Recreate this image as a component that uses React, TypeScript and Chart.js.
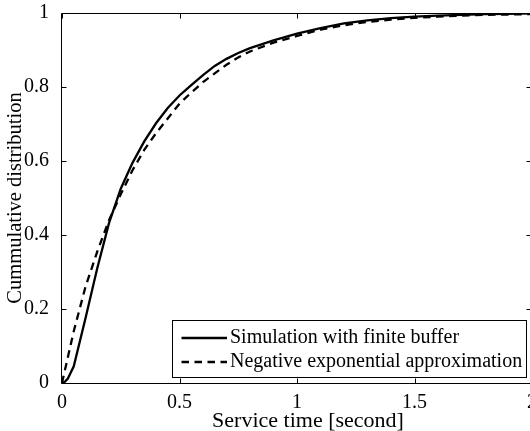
import { useEffect, useRef } from "react";
import { Chart, registerables } from "chart.js";

Chart.register(...registerables);

const FONT = '"Liberation Serif", "Times New Roman", Times, serif';

const seriesNames = ["Simulation with finite buffer", "Negative exponential approximation"];

const simTimes = [0, 0.012, 0.025, 0.05, 0.1, 0.15, 0.2, 0.25, 0.3, 0.35, 0.4, 0.45, 0.5, 0.55, 0.6, 0.65, 0.7, 0.75, 0.8, 0.9, 1.0, 1.1, 1.2, 1.3, 1.4, 1.5, 1.6, 1.7, 1.8, 1.9, 2.0];
const simValues = [0, 0.003, 0.012, 0.045, 0.175, 0.31, 0.432, 0.525, 0.595, 0.653, 0.702, 0.743, 0.777, 0.805, 0.832, 0.857, 0.876, 0.892, 0.905, 0.926, 0.944, 0.959, 0.972, 0.98, 0.986, 0.99, 0.993, 0.995, 0.997, 0.998, 0.999];

const expTimes = [0, 0.05, 0.1, 0.15, 0.2, 0.25, 0.3, 0.35, 0.4, 0.45, 0.5, 0.55, 0.6, 0.65, 0.7, 0.75, 0.8, 0.9, 1.0, 1.1, 1.2, 1.3, 1.4, 1.5, 1.6, 1.7, 1.8, 1.9, 2.0];
const expValues = [0, 0.14, 0.26, 0.355, 0.44, 0.51, 0.575, 0.63, 0.675, 0.715, 0.755, 0.785, 0.813, 0.837, 0.86, 0.88, 0.896, 0.92, 0.938, 0.955, 0.967, 0.976, 0.982, 0.987, 0.99, 0.993, 0.995, 0.996, 0.997];

const xTitle = "Service time [second]";
const yTitle = "Cummulative distribution";

const DASH = [7.5, 5.5];

const fmt = (v: any) => String(parseFloat(Number(v).toFixed(3)));

const framePlugin = {
  id: "matlabFrame",
  afterDraw(chart: any) {
    const { ctx, chartArea: a, scales } = chart;
    const xs = scales.x;
    const ys = scales.y;
    ctx.save();
    ctx.strokeStyle = "#000";
    ctx.lineWidth = 1;
    const L = Math.round(a.left) - 0.5;
    const R = Math.round(a.right) - 0.5;
    const T = Math.round(a.top) + 0.5;
    const B = Math.round(a.bottom) + 0.5;
    ctx.beginPath();
    ctx.rect(L, T, R - L, B - T);
    ctx.stroke();
    const tl = 5;
    ctx.beginPath();
    xs.ticks.forEach((t: any) => {
      const px = Math.round(xs.getPixelForValue(t.value)) + 0.5;
      ctx.moveTo(px, B);
      ctx.lineTo(px, B - tl);
      ctx.moveTo(px, T);
      ctx.lineTo(px, T + tl);
    });
    ys.ticks.forEach((t: any) => {
      const py = Math.round(ys.getPixelForValue(t.value)) + 0.5;
      ctx.moveTo(L, py);
      ctx.lineTo(L + tl, py);
      ctx.moveTo(R, py);
      ctx.lineTo(R - tl, py);
    });
    ctx.stroke();

    // x axis title
    ctx.fillStyle = "#000";
    ctx.font = `22px ${FONT}`;
    ctx.textAlign = "center";
    ctx.textBaseline = "alphabetic";
    ctx.fillText(xTitle, (a.left + a.right) / 2 + 11, 427);

    // legend
    ctx.font = `20px ${FONT}`;
    const tw = Math.max(...seriesNames.map((s) => ctx.measureText(s).width));
    const boxW = 57.5 + tw + 4;
    const boxH = 56.5;
    const right = a.right - 6;
    const bottom = a.bottom - 6.5;
    const left = Math.round(right - boxW) + 0.5;
    const top = Math.round(bottom - boxH) + 0.5;
    ctx.fillStyle = "#fff";
    ctx.fillRect(left, top, Math.round(boxW), Math.round(boxH));
    ctx.strokeRect(left, top, Math.round(boxW), Math.round(boxH));
    chart.data.datasets.forEach((ds: any, i: number) => {
      const yy = top + 17.5 + i * 24;
      ctx.beginPath();
      ctx.strokeStyle = "#000";
      ctx.lineWidth = ds.borderWidth;
      ctx.setLineDash(ds.borderDash || []);
      ctx.moveTo(left + 9, yy);
      ctx.lineTo(left + 54.5, yy);
      ctx.stroke();
      ctx.setLineDash([]);
      ctx.fillStyle = "#000";
      ctx.textAlign = "left";
      ctx.textBaseline = "middle";
      ctx.fillText(ds.label, left + 57.5, yy);
    });
    ctx.restore();
  },
};

export default function App() {
  const ref = useRef<HTMLCanvasElement>(null);
  useEffect(() => {
    const canvas = ref.current;
    if (!canvas) return;
    const chart = new Chart(canvas, {
      type: "line",
      data: {
        datasets: [
          {
            label: seriesNames[0],
            data: simTimes.map((t, i) => ({ x: t, y: simValues[i] })),
            borderColor: "#000",
            borderWidth: 2.3,
            pointRadius: 0,
            tension: 0,
            fill: false,
          },
          {
            label: seriesNames[1],
            data: expTimes.map((t, i) => ({ x: t, y: expValues[i] })),
            borderColor: "#000",
            borderWidth: 2.3,
            borderDash: DASH,
            pointRadius: 0,
            tension: 0,
            fill: false,
          },
        ],
      },
      options: {
        animation: false,
        responsive: false,
        devicePixelRatio: 1,
        layout: { padding: { left: 0, right: 2, top: 13, bottom: 0 } },
        plugins: { legend: { display: false }, tooltip: { enabled: false } },
        scales: {
          x: {
            type: "linear",
            min: 0,
            max: 2,
            grid: { display: false },
            border: { display: false },
            ticks: {
              stepSize: 0.5,
              padding: 0,
              maxRotation: 0,
              color: "#000",
              font: { family: FONT, size: 20 },
              callback: fmt,
            },
            afterFit(s: any) {
              s.height = 48;
              s.paddingLeft = 0;
              s.paddingRight = 0;
            },
          },
          y: {
            type: "linear",
            min: 0,
            max: 1,
            grid: { display: false },
            border: { display: false },
            ticks: {
              stepSize: 0.2,
              padding: 5,
              color: "#000",
              font: { family: FONT, size: 20 },
              callback: fmt,
            },
            title: {
              display: true,
              text: yTitle,
              color: "#000",
              font: { family: FONT, size: 20.5, lineHeight: 1 },
              padding: { top: 5, bottom: 0 },
            },
            afterFit(s: any) {
              s.width = 62;
              s.paddingTop = 0;
              s.paddingBottom = 0;
            },
          },
        },
      },
      plugins: [framePlugin],
    } as any);
    return () => chart.destroy();
  }, []);
  return (
    <div style={{ position: "fixed", left: 0, top: 0, width: 534, height: 431, background: "#fff" }}>
      <canvas ref={ref} width={534} height={431} style={{ display: "block", width: 534, height: 431 }} />
    </div>
  );
}
